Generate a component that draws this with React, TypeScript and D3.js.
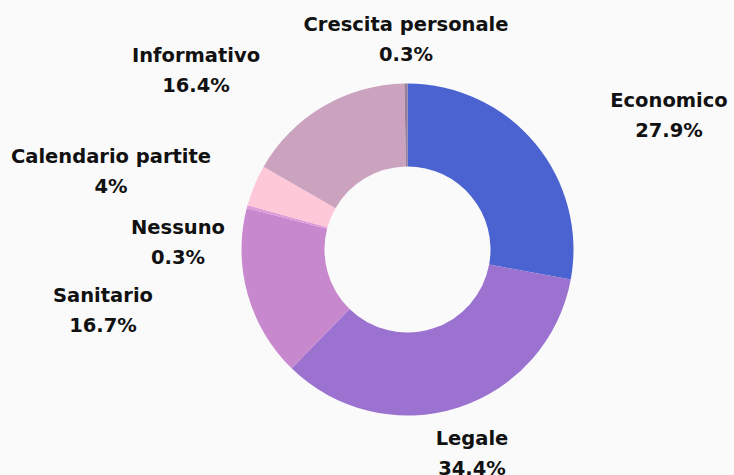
import React from "react";
import * as d3 from "d3";

const categories = ["Economico", "Legale", "Sanitario", "Nessuno", "Calendario partite", "Informativo", "Crescita personale"];
const values = [27.9, 34.4, 16.7, 0.3, 4, 16.4, 0.3];
const valueLabels = ["27.9%", "34.4%", "16.7%", "0.3%", "4%", "16.4%", "0.3%"];
const colors = ["#4a63d1", "#9b72d0", "#c888ce", "#de9bd8", "#ffc8d8", "#cba3bf", "#9a7d96"];
// label anchor (center x, first baseline y) relative to chart layout
const labelPos: [number, number][] = [
  [669, 107],
  [472, 445],
  [103, 302],
  [178, 234],
  [111, 163],
  [196, 62],
  [406, 31],
];

const W = 734;
const H = 475;

export default function App() {
  const cx = 407.5;
  const cy = 249.5;
  const outerR = 166;
  const innerR = 83;
  const pie = d3.pie<number>().sort(null).value((d) => d)(values);
  const arc = d3.arc<d3.PieArcDatum<number>>().innerRadius(innerR).outerRadius(outerR);
  const font = "'DejaVu Sans', sans-serif";
  return (
    <div style={{ position: "fixed", left: 0, top: 0, width: W, height: H, background: "#fafafa" }}>
      <svg width={W} height={H} style={{ display: "block" }}>
        <rect width={W} height={H} fill="#fafafa" />
        <g transform={`translate(${cx},${cy})`}>
          {pie.map((p, i) => (
            <path key={i} d={arc(p) || ""} fill={colors[i]} />
          ))}
        </g>
        {categories.map((c, i) => (
          <g key={c} fontFamily={font} fontWeight={700} fontSize={19.5} fill="#111" textAnchor="middle">
            <text x={labelPos[i][0]} y={labelPos[i][1]}>{c}</text>
            <text x={labelPos[i][0]} y={labelPos[i][1] + 30}>{valueLabels[i]}</text>
          </g>
        ))}
      </svg>
    </div>
  );
}
